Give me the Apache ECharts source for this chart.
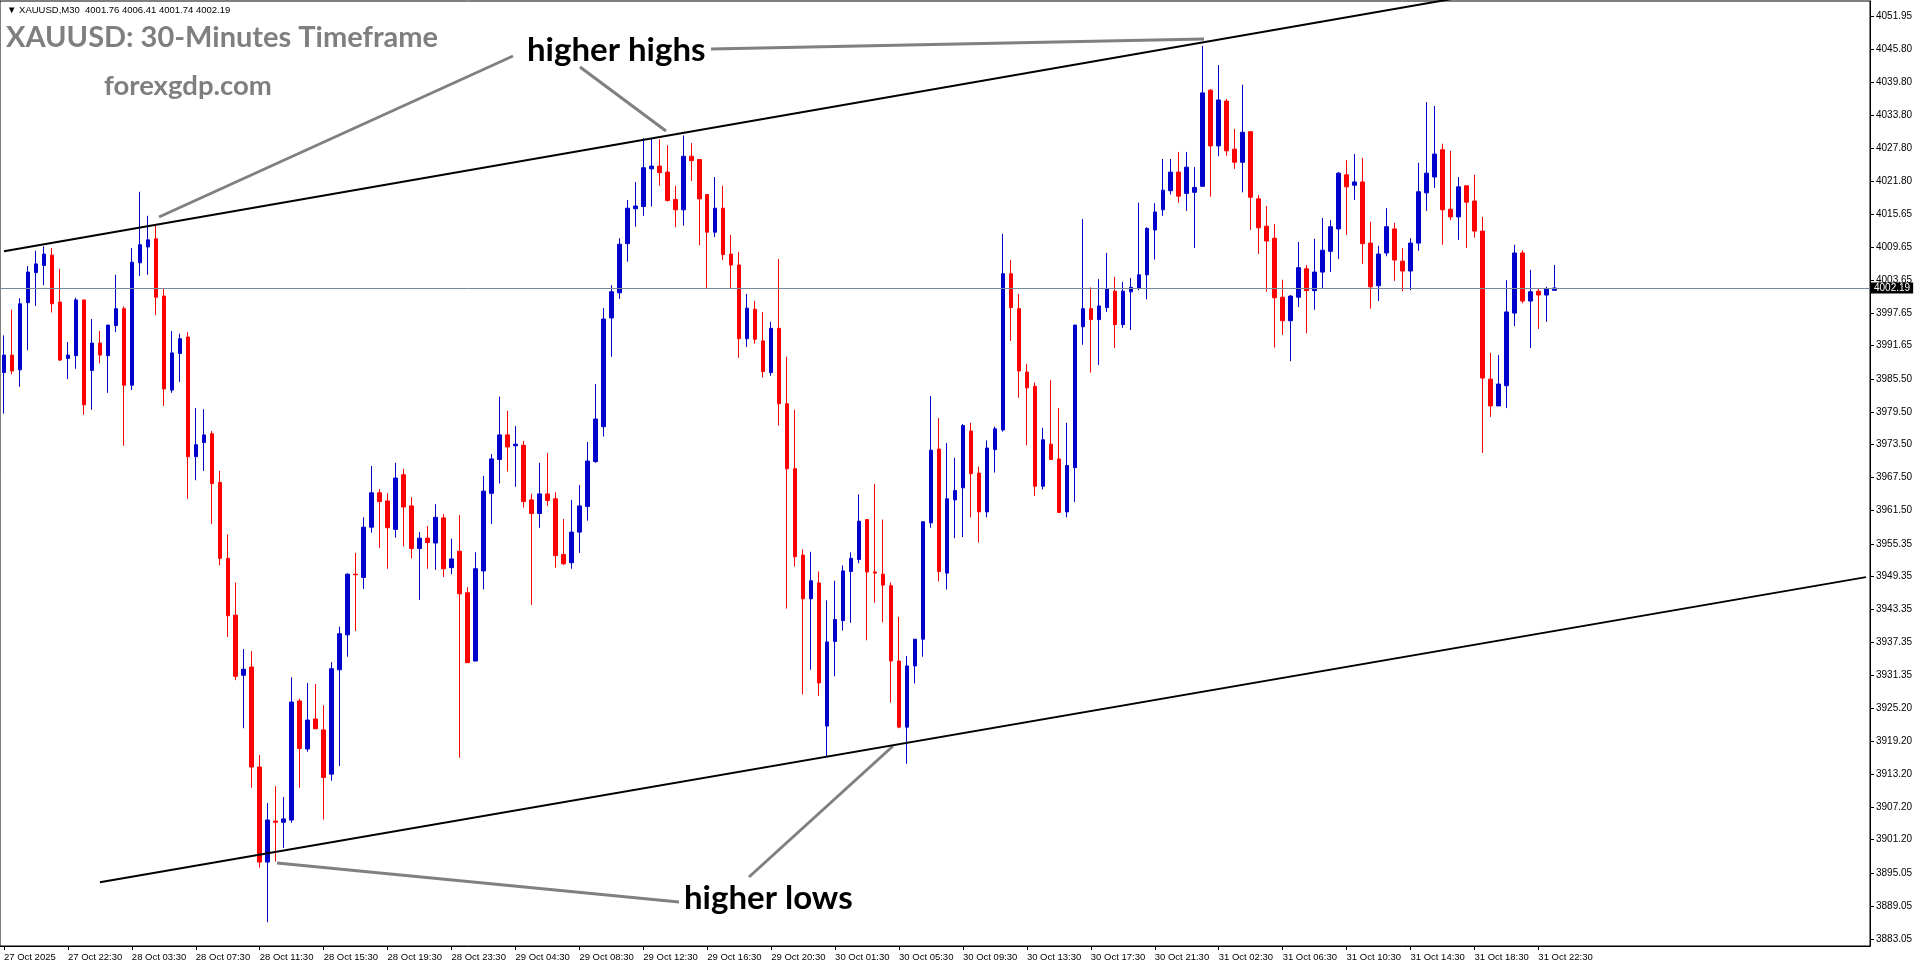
<!DOCTYPE html>
<html>
<head>
<meta charset="utf-8">
<title>XAUUSD M30</title>
<script src="https://cdn.jsdelivr.net/npm/echarts@6/dist/echarts.min.js"></script>
<style>
  html, body { margin: 0; padding: 0; background: #fff; }
  #chart { width: 1916px; height: 964px; }
</style>
</head>
<body>
<div id="chart"></div>
<script>
// time labels, one every 8 bars (4 hours)
var tickLabels = ['27 Oct 2025', '27 Oct 22:30', '28 Oct 03:30', '28 Oct 07:30', '28 Oct 11:30',
  '28 Oct 15:30', '28 Oct 19:30', '28 Oct 23:30', '29 Oct 04:30', '29 Oct 08:30', '29 Oct 12:30',
  '29 Oct 16:30', '29 Oct 20:30', '30 Oct 01:30', '30 Oct 05:30', '30 Oct 09:30', '30 Oct 13:30',
  '30 Oct 17:30', '30 Oct 21:30', '31 Oct 02:30', '31 Oct 06:30', '31 Oct 10:30', '31 Oct 14:30',
  '31 Oct 18:30', '31 Oct 22:30'];

var priceTicks = [4051.95, 4045.80, 4039.80, 4033.80, 4027.80, 4021.80, 4015.65, 4009.65, 4003.65,
  3997.65, 3991.65, 3985.50, 3979.50, 3973.50, 3967.50, 3961.50, 3955.35, 3949.35, 3943.35, 3937.35,
  3931.35, 3925.20, 3919.20, 3913.20, 3907.20, 3901.20, 3895.05, 3889.05, 3883.05];

// 30 minute bars, oldest first
var opens = [3986.7, 3989.9, 3987.2, 3999.5, 4005.0, 4006.3, 4008.2, 3999.6, 3989.3, 3989.8,
  4000.0, 3987.1, 3992.1, 3989.8, 3995.3, 3998.4, 3984.4, 4006.8, 4009.7, 4011.2,
  4000.7, 3983.5, 3990.2, 3993.2, 3971.3, 3973.9, 3975.5, 3966.6, 3952.7, 3942.3,
  3931.3, 3932.8, 3914.5, 3897.1, 3904.6, 3904.4, 3904.8, 3926.6, 3917.8, 3923.3,
  3921.3, 3913.2, 3932.3, 3938.7, 3949.8, 3949.2, 3958.4, 3964.7, 3963.2, 3958.0,
  3968.0, 3962.3, 3954.5, 3956.4, 3955.5, 3960.1, 3951.0, 3954.0, 3946.4, 3933.9,
  3950.4, 3964.6, 3970.8, 3975.3, 3973.3, 3973.4, 3963.4, 3960.9, 3964.5, 3963.6,
  3953.4, 3951.9, 3957.5, 3962.2, 3970.4, 3976.8, 3996.7, 4001.3, 4010.3, 4016.7,
  4017.1, 4024.0, 4024.5, 4023.4, 4018.4, 4016.5, 4026.3, 4025.7, 4019.3, 4012.4,
  4016.8, 4008.4, 4006.4, 3992.9, 3998.3, 3992.5, 3986.7, 3994.8, 3981.0, 3969.1,
  3953.3, 3945.3, 3948.2, 3922.0, 3937.5, 3941.3, 3950.3, 3952.5, 3959.8, 3950.2,
  3949.8, 3947.7, 3933.9, 3921.8, 3933.0, 3937.9, 3959.2, 3972.7, 3950.0, 3963.4,
  3965.6, 3976.0, 3968.3, 3961.2, 3972.6, 3976.2, 4004.8, 3998.4, 3986.8, 3984.2,
  3965.9, 3973.6, 3970.9, 3961.2, 3969.3, 3995.1, 3998.4, 3996.4, 3998.6, 4001.6,
  3995.5, 4001.5, 4002.2, 4004.6, 4012.8, 4016.5, 4020.0, 4023.4, 4019.5, 4019.7,
  4020.8, 4038.4, 4028.2, 4036.4, 4027.6, 4025.2, 4030.8, 4018.5, 4013.5, 4011.3,
  4000.5, 3996.2, 4000.5, 4005.7, 4001.7, 4005.1, 4008.9, 4013.0, 4022.9, 4021.0,
  4021.6, 4010.4, 4002.6, 4008.6, 4013.0, 4007.1, 4005.3, 4010.4, 4019.6, 4022.5,
  4027.5, 4016.6, 4015.2, 4020.9, 4018.1, 4012.6, 3985.5, 3980.6, 3984.3, 3997.6,
  4008.6, 3999.8, 4001.6, 4000.9, 4001.76];

var highs = [3993.5, 3998.2, 4000.3, 4006.2, 4009.0, 4009.8, 4009.5, 4005.7, 3992.3, 4000.4,
  4000.0, 3996.5, 3994.3, 3995.4, 4004.6, 3998.8, 4009.5, 4019.8, 4015.4, 4013.9,
  4002.1, 3994.3, 3993.8, 3994.1, 3980.2, 3980.0, 3976.0, 3968.7, 3957.1, 3948.3,
  3936.1, 3935.7, 3916.7, 3907.9, 3911.0, 3909.0, 3930.9, 3927.0, 3929.9, 3929.7,
  3925.8, 3933.7, 3940.2, 3950.0, 3953.7, 3960.2, 3969.6, 3965.4, 3964.6, 3970.2,
  3969.1, 3963.9, 3957.5, 3958.6, 3962.6, 3960.8, 3956.3, 3960.6, 3947.4, 3953.8,
  3967.8, 3971.8, 3982.3, 3979.7, 3976.9, 3974.2, 3964.5, 3970.2, 3972.0, 3964.8,
  3959.9, 3963.4, 3966.1, 3974.0, 3984.6, 3998.5, 4002.7, 4011.3, 4018.3, 4021.6,
  4029.6, 4029.6, 4029.4, 4028.3, 4020.9, 4030.1, 4028.7, 4025.7, 4019.3, 4022.5,
  4020.9, 4011.9, 4008.8, 4001.1, 3999.8, 3997.8, 3996.0, 4007.5, 3989.6, 3979.9,
  3954.3, 3953.9, 3950.3, 3945.0, 3948.6, 3951.4, 3953.8, 3964.4, 3959.8, 3966.3,
  3959.8, 3948.3, 3942.0, 3934.8, 3937.9, 3959.4, 3982.4, 3978.4, 3973.8, 3971.1,
  3977.3, 3977.5, 3969.5, 3974.3, 3976.8, 4012.1, 4007.3, 4001.1, 3988.3, 3984.9,
  3976.6, 3985.3, 3980.2, 3977.5, 3995.4, 4014.8, 4002.3, 4003.8, 4008.6, 4004.2,
  4003.3, 4004.0, 4017.8, 4013.3, 4017.7, 4025.8, 4025.8, 4027.1, 4027.1, 4024.3,
  4046.5, 4038.6, 4043.0, 4036.8, 4031.3, 4039.4, 4030.8, 4019.2, 4017.2, 4013.9,
  4003.7, 4000.9, 4010.6, 4006.4, 4011.2, 4015.0, 4014.6, 4023.4, 4025.6, 4026.7,
  4026.0, 4014.3, 4009.9, 4016.8, 4014.1, 4009.5, 4011.3, 4025.1, 4036.2, 4035.5,
  4028.6, 4027.3, 4022.5, 4020.9, 4022.9, 4015.2, 3990.3, 3989.9, 4003.6, 4010.1,
  4009.1, 4005.5, 4002.2, 4002.4, 4006.41];

var lows = [3979.2, 3986.4, 3984.1, 3990.8, 3998.9, 4002.7, 3997.7, 3988.8, 3985.5, 3987.4,
  3979.0, 3979.9, 3988.4, 3983.0, 3994.1, 3973.3, 3983.5, 4004.4, 4004.6, 3997.2,
  3980.6, 3983.0, 3985.0, 3963.6, 3967.0, 3968.7, 3959.0, 3951.4, 3938.3, 3930.4,
  3921.6, 3910.7, 3896.1, 3886.1, 3897.2, 3899.7, 3904.3, 3910.7, 3917.3, 3921.5,
  3904.9, 3912.0, 3914.7, 3934.7, 3939.4, 3947.1, 3957.4, 3954.6, 3950.8, 3956.5,
  3954.9, 3952.7, 3945.1, 3950.8, 3950.6, 3949.3, 3949.8, 3916.2, 3933.6, 3933.9,
  3947.0, 3959.0, 3966.4, 3968.6, 3965.8, 3962.0, 3944.2, 3958.3, 3962.3, 3951.0,
  3951.5, 3950.8, 3953.7, 3959.6, 3970.2, 3975.0, 3989.6, 4000.2, 4007.0, 4013.4,
  4015.4, 4017.1, 4020.9, 4018.0, 4013.3, 4013.6, 4021.8, 4010.0, 4002.2, 4011.5,
  4007.3, 4002.2, 3989.4, 3991.4, 3992.0, 3985.8, 3986.1, 3977.0, 3943.5, 3951.2,
  3927.8, 3932.3, 3927.5, 3916.4, 3931.1, 3939.5, 3940.9, 3951.8, 3937.7, 3944.6,
  3941.0, 3926.3, 3921.6, 3915.1, 3929.8, 3934.7, 3958.3, 3948.5, 3947.0, 3956.4,
  3956.6, 3960.2, 3955.6, 3960.2, 3968.4, 3975.9, 3992.5, 3982.1, 3973.4, 3964.1,
  3965.3, 3970.8, 3961.1, 3960.2, 3963.0, 3991.8, 3986.7, 3988.1, 3997.8, 3991.2,
  3994.9, 3994.5, 4001.8, 4000.1, 4007.4, 4015.4, 4019.3, 4017.8, 4016.3, 4009.5,
  4020.7, 4018.9, 4026.3, 4026.4, 4024.0, 4019.7, 4012.8, 4008.4, 4001.5, 3991.3,
  3993.6, 3988.8, 3998.7, 3993.9, 3998.2, 4002.2, 4005.1, 4007.5, 4011.9, 4018.3,
  4006.6, 3998.4, 3999.8, 4008.0, 4003.5, 4001.6, 4001.8, 4009.0, 4016.3, 4020.5,
  4010.1, 4014.6, 4011.0, 4009.5, 4011.4, 3972.0, 3978.6, 3980.6, 3980.2, 3995.2,
  3999.4, 3991.2, 3994.7, 3996.0, 4001.74];

var closes = [3989.9, 3987.0, 3999.3, 4005.1, 4006.6, 4008.4, 3999.3, 3989.0, 3989.9, 4000.0,
  3980.8, 3992.1, 3989.9, 3995.4, 3998.4, 3984.4, 4006.9, 4010.1, 4011.0, 4000.5,
  3983.7, 3990.3, 3992.9, 3971.3, 3973.5, 3975.3, 3966.4, 3952.7, 3942.2, 3931.1,
  3932.4, 3914.5, 3897.1, 3904.8, 3904.4, 3905.0, 3926.4, 3917.9, 3923.1, 3921.5,
  3912.6, 3932.5, 3938.9, 3949.8, 3949.7, 3958.4, 3964.7, 3963.1, 3958.3, 3967.4,
  3962.1, 3954.5, 3956.4, 3955.6, 3960.2, 3950.8, 3952.6, 3946.2, 3933.6, 3950.8,
  3965.0, 3970.9, 3975.3, 3973.1, 3973.6, 3963.1, 3960.9, 3964.5, 3963.3, 3953.2,
  3951.7, 3957.5, 3962.3, 3970.5, 3978.2, 3996.5, 4001.5, 4010.2, 4016.8, 4017.2,
  4024.2, 4024.5, 4023.3, 4018.2, 4016.5, 4026.3, 4025.5, 4018.5, 4012.4, 4016.8,
  4008.3, 4006.4, 3992.9, 3998.5, 3992.8, 3986.9, 3994.8, 3981.0, 3969.1, 3953.0,
  3945.3, 3948.6, 3929.9, 3937.4, 3941.5, 3950.4, 3952.7, 3959.5, 3950.2, 3950.0,
  3947.8, 3933.9, 3921.8, 3933.0, 3937.9, 3959.4, 3972.5, 3950.3, 3963.6, 3965.1,
  3977.0, 3968.2, 3961.2, 3972.9, 3976.4, 4004.8, 3998.6, 3987.0, 3983.9, 3965.9,
  3974.4, 3970.8, 3961.1, 3969.7, 3995.4, 3998.4, 3996.4, 3998.9, 4002.0, 3995.5,
  4001.6, 4002.3, 4004.6, 4013.1, 4016.1, 4020.1, 4023.4, 4019.0, 4024.3, 4020.6,
  4037.9, 4028.2, 4036.6, 4027.3, 4025.2, 4030.7, 4018.8, 4013.2, 4010.8, 4000.4,
  3996.2, 4000.7, 4005.9, 4001.7, 4005.1, 4009.1, 4013.4, 4023.2, 4020.7, 4021.6,
  4010.3, 4002.4, 4008.4, 4013.4, 4007.3, 4005.3, 4010.4, 4019.8, 4023.2, 4026.7,
  4016.5, 4015.2, 4020.7, 4017.9, 4012.6, 3985.7, 3980.6, 3984.6, 3997.8, 4008.6,
  3999.8, 4001.5, 4000.9, 4002.0, 4002.19];

// channel lines: [bar index, price] at both ends
var upperLine = [[0, 4008.93], [182, 4055.3]];
var lowerLine = [[12, 3893.42], [233, 3949.26]];

var slots = 234;   // bars that fit across the plot, empty on the right
var barsPerLabel = 8;
var lastPrice = closes[closes.length - 1];

var categories = [];
for (var i = 0; i < slots; i++) categories.push(String(i));

var candles = opens.map(function(o, i) {
  return [o, closes[i], lows[i], highs[i]];
});

var showTick = function(index) {
  return index % barsPerLabel === 0 && index / barsPerLabel < tickLabels.length;
};

var myChart = echarts.init(document.getElementById('chart'));

var option = {
  animation: false,
  backgroundColor: '#fff',
  grid: {
    left: 0,
    right: 46,
    top: 1,
    bottom: 18,
    show: true,
    borderColor: '#000',
    borderWidth: 1,
    backgroundColor: '#fff'
  },
  xAxis: {
    type: 'category',
    data: categories,
    boundaryGap: true,
    axisLine: { lineStyle: { color: '#000', width: 1 } },
    axisTick: { show: true, alignWithLabel: true, interval: showTick, length: 4, lineStyle: { color: '#000' } },
    axisLabel: {
      interval: showTick,
      align: 'left',
      margin: 6,
      color: '#000',
      fontFamily: 'Liberation Sans',
      fontSize: 9.5,
      formatter: function(v, idx) { return tickLabels[idx / barsPerLabel] || ''; }
    },
    splitLine: { show: false }
  },
  yAxis: {
    type: 'value',
    position: 'right',
    min: 3881.74,
    max: 4054.72,
    axisLine: { show: true, lineStyle: { color: '#000' } },
    axisTick: { show: true, length: 4, lineStyle: { color: '#000' }, customValues: priceTicks },
    axisLabel: {
      color: '#000',
      margin: 6,
      fontFamily: 'Liberation Sans',
      fontSize: 10,
      customValues: priceTicks,
      formatter: function(v) { return v.toFixed(2); }
    },
    splitLine: { show: false }
  },
  series: [
    {
      type: 'candlestick',
      data: candles,
      barWidth: 4,
      clip: true,
      itemStyle: {
        color: '#0000cd',
        color0: '#ff0000',
        borderColor: '#0000cd',
        borderColor0: '#ff0000',
        borderWidth: 1
      },
      markLine: {
        silent: true,
        symbol: ['none', 'none'],
        animation: false,
        lineStyle: { color: '#778899', width: 1, type: 'solid' },
        label: {
          show: true,
          position: 'end',
          distance: 1,
          formatter: lastPrice.toFixed(2),
          backgroundColor: '#000',
          color: '#fff',
          fontFamily: 'Liberation Sans',
          fontSize: 10,
          padding: [1, 3, 0, 3]
        },
        data: [{ yAxis: lastPrice }]
      }
    },
    {
      type: 'line',
      data: upperLine,
      symbol: 'none',
      silent: true,
      clip: true,
      lineStyle: { color: '#000', width: 2 }
    },
    {
      type: 'line',
      data: lowerLine,
      symbol: 'none',
      silent: true,
      clip: true,
      lineStyle: { color: '#000', width: 2 }
    }
  ],
  graphic: [
    { type: 'text', left: 7, top: 5, style: { text: '\u25BC XAUUSD,M30  4001.76 4006.41 4001.74 4002.19', font: '9.5px "Liberation Sans", "DejaVu Sans"', fill: '#000' } },
    { type: 'text', left: 6, top: 23, style: { text: 'XAUUSD: 30-Minutes Timeframe', font: 'bold 29px Lato', fill: '#7f7f7f' } },
    { type: 'text', left: 104, top: 72, style: { text: 'forexgdp.com', font: 'bold 27.5px Lato', fill: '#7f7f7f' } },
    { type: 'line', shape: { x1: 159, y1: 217, x2: 513, y2: 56 }, style: { stroke: '#808080', lineWidth: 3 } },
    { type: 'line', shape: { x1: 580, y1: 67, x2: 666, y2: 131 }, style: { stroke: '#808080', lineWidth: 3 } },
    { type: 'line', shape: { x1: 711, y1: 49, x2: 1204, y2: 39 }, style: { stroke: '#808080', lineWidth: 3 } },
    { type: 'line', shape: { x1: 749, y1: 877, x2: 893, y2: 746 }, style: { stroke: '#808080', lineWidth: 3 } },
    { type: 'line', shape: { x1: 679, y1: 902, x2: 277, y2: 863 }, style: { stroke: '#808080', lineWidth: 3 } },
    { type: 'text', left: 527, top: 34, style: { text: 'higher highs', font: 'bold 33px Lato', fill: '#000' } },
    { type: 'text', left: 684, top: 882, style: { text: 'higher lows', font: 'bold 33px Lato', fill: '#000' } }
  ]
};

myChart.setOption(option);
</script>
</body>
</html>
